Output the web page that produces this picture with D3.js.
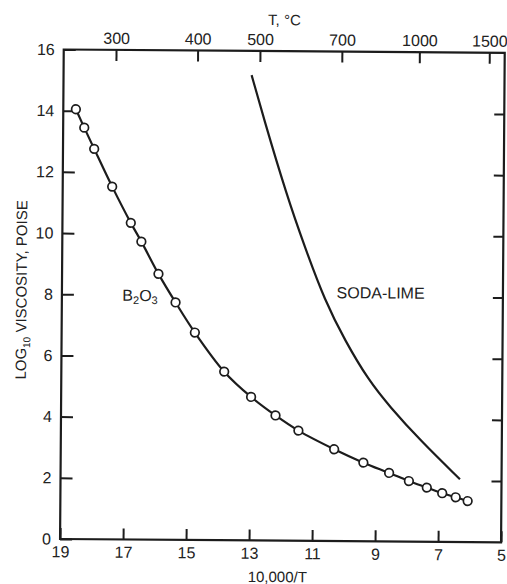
<!DOCTYPE html>
<html>
<head>
<meta charset="utf-8">
<script src="https://cdn.jsdelivr.net/npm/d3@7"></script>
<style>
  html, body { margin: 0; padding: 0; background: #fff; }
  svg { display: block; }
  text { font-family: "Liberation Sans", Arial, Helvetica, sans-serif; fill: #222; }
</style>
</head>
<body>
<svg id="chart" width="507" height="584"></svg>
<script>
// Bottom axis: 10,000/T (T in kelvin)
const xTickValues = [19, 17, 15, 13, 11, 9, 7, 5];
// Left axis: log10 viscosity (poise)
const yTickValues = [0, 2, 4, 6, 8, 10, 12, 14, 16];
// Top axis: temperature in degrees C and where each falls on the 10,000/T scale
const topTickLabels = ["300", "400", "500", "700", "1000", "1500"];
const topTickPositions = [17.34, 14.75, 12.77, 10.17, 7.71, 5.49];

// B2O3 measurements
const b2o3InvT = [18.60, 18.33, 18.01, 17.43, 16.83, 16.49, 15.94, 15.39, 14.77, 13.83,
                  12.97, 12.19, 11.46, 10.32, 9.39, 8.57, 7.94, 7.37, 6.88, 6.45, 6.07];
const b2o3LogVisc = [14.05, 13.45, 12.76, 11.53, 10.35, 9.74, 8.69, 7.76, 6.78, 5.51,
                     4.69, 4.09, 3.60, 3.00, 2.57, 2.24, 1.98, 1.77, 1.59, 1.46, 1.34];

// Soda-lime glass curve
const sodaInvT = [13.03, 12.65, 11.89, 11.30, 10.65, 10.00, 9.25, 8.56, 7.60, 6.32];
const sodaLogVisc = [15.21, 13.85, 11.30, 9.60, 7.85, 6.55, 5.27, 4.40, 3.32, 2.05];

const INK = "#1c1c1c";
const L = 61.9, R = 502.9, T = 51.15, B = 540.65;
const cx = (L + R) / 2, cy = (T + B) / 2;

const svg = d3.select("#chart");
// slight tilt of the whole printed figure
const g = svg.append("g").attr("transform", `rotate(0.43, ${cx}, ${cy})`);

const x = d3.scaleLinear().domain([19, 5]).range([L, R]);
const y = d3.scaleLinear().domain([0, 16]).range([B, T]);

function styleAxis(sel) {
  sel.select(".domain").remove();
  sel.selectAll(".tick line").attr("stroke", INK).attr("stroke-width", 2);
  sel.selectAll(".tick text")
    .attr("font-family", '"Liberation Sans", Arial, sans-serif')
    .attr("font-size", 16).attr("fill", "#222");
}

// bottom
g.append("g").attr("transform", `translate(0,${B})`)
  .call(d3.axisBottom(x).tickValues(xTickValues).tickFormat(d3.format("d"))
    .tickSizeInner(-11).tickSizeOuter(0).tickPadding(7))
  .call(styleAxis);

// left
g.append("g").attr("transform", `translate(${L},0)`)
  .call(d3.axisLeft(y).tickValues(yTickValues).tickFormat(d3.format("d"))
    .tickSizeInner(-12).tickSizeOuter(0).tickPadding(9))
  .call(styleAxis);

// right (ticks only)
g.append("g").attr("transform", `translate(${R},0)`)
  .call(d3.axisRight(y).tickValues(yTickValues.slice(1, -1)).tickFormat("")
    .tickSizeInner(-10).tickSizeOuter(0))
  .call(styleAxis);

// top: temperature scale
g.append("g").attr("transform", `translate(0,${T})`)
  .call(d3.axisTop(x).tickValues(topTickPositions)
    .tickFormat((d, i) => topTickLabels[i])
    .tickSizeInner(-11).tickSizeOuter(0).tickPadding(6))
  .call(styleAxis);

// frame
g.append("rect")
  .attr("x", L).attr("y", T).attr("width", R - L).attr("height", B - T)
  .attr("fill", "none").attr("stroke", INK).attr("stroke-width", 2.2);

// axis titles
g.append("text").attr("x", cx).attr("y", T - 26)
  .attr("text-anchor", "middle").attr("font-size", 15).text("T, °C");
g.append("text").attr("x", cx - 3).attr("y", B + 41.5)
  .attr("text-anchor", "middle").attr("font-size", 15).text("10,000/T");

const yTitle = g.append("text")
  .attr("transform", `translate(26.5, ${y(8) - 4}) rotate(-90)`)
  .attr("text-anchor", "middle").attr("font-size", 15);
yTitle.append("tspan").text("LOG");
yTitle.append("tspan").attr("font-size", 10).attr("dy", 4).text("10");
yTitle.append("tspan").attr("dy", -4).text(" VISCOSITY, POISE");

// curves
const b2o3 = b2o3InvT.map((v, i) => [v, b2o3LogVisc[i]]);
const soda = sodaInvT.map((v, i) => [v, sodaLogVisc[i]]);

const line = d3.line()
  .x(d => x(d[0])).y(d => y(d[1]))
  .curve(d3.curveCatmullRom.alpha(0.5));

g.append("path").datum(soda).attr("d", line.curve(d3.curveBasis))
  .attr("fill", "none").attr("stroke", INK).attr("stroke-width", 2.2);

g.append("path").datum(b2o3).attr("d", line.curve(d3.curveCatmullRom.alpha(0.5)))
  .attr("fill", "none").attr("stroke", INK).attr("stroke-width", 2.2);

g.selectAll("circle.pt").data(b2o3).join("circle")
  .attr("class", "pt")
  .attr("cx", d => x(d[0])).attr("cy", d => y(d[1]))
  .attr("r", 4.3)
  .attr("fill", "#fff").attr("stroke", INK).attr("stroke-width", 1.7);

// curve labels
const bl = g.append("text").attr("x", x(17.08)).attr("y", y(7.80)).attr("font-size", 16);
bl.append("tspan").text("B");
bl.append("tspan").attr("font-size", 11).attr("dy", 3).text("2");
bl.append("tspan").attr("dy", -3).text("O");
bl.append("tspan").attr("font-size", 11).attr("dy", 3).text("3");

g.append("text").attr("x", x(10.28)).attr("y", y(7.94)).attr("font-size", 16)
  .text("SODA-LIME");
</script>
</body>
</html>
